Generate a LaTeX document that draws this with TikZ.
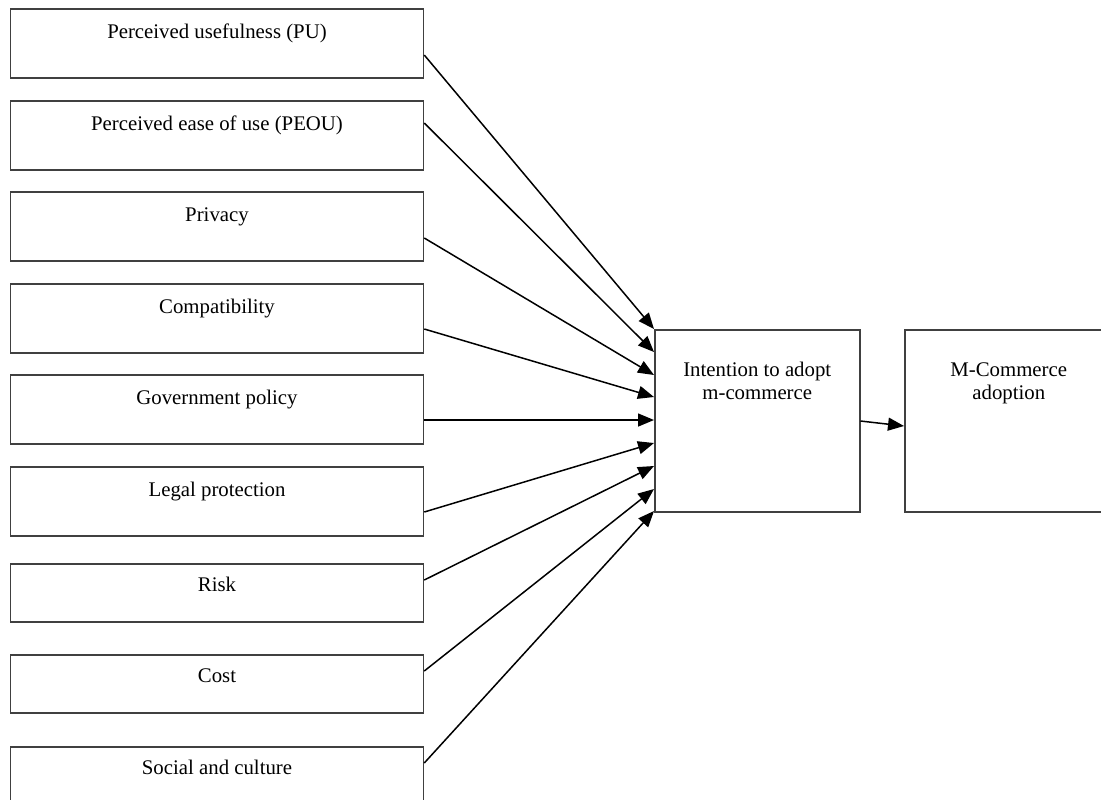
\documentclass[tikz,border=0pt]{standalone}
\usepackage{fontspec}
\setmainfont{Liberation Serif}
\usetikzlibrary{arrows.meta, calc}

\begin{document}
\begin{tikzpicture}[x=0.5pt, y=-0.5pt, >={Triangle[length=8pt, width=6.5pt]},
    font=\fontsize{10.4}{11.5}\selectfont,
    factor/.style={draw=black!75, line width=0.75pt, anchor=north, minimum width=206.5pt,
        inner ysep=8pt, text height=7pt, text depth=11.5pt},
    lowfactor/.style={factor, inner ysep=7pt, text depth=8pt},
    stage/.style={draw=black!75, line width=0.75pt, anchor=north west, minimum width=102.5pt,
        inner ysep=16.5pt, text height=7pt, text depth=51pt},
    link/.style={->, line width=0.75pt}]

    % --- 1. Frame (page size in pixels) ---
    \useasboundingbox (0,0) rectangle (1101,799);

    % --- 2. Factor boxes (left column) ---
    \node[factor] (pu) at (217,8) {Perceived usefulness (PU)};
    \node[factor] (peou) at (217,100) {Perceived ease of use (PEOU)};
    \node[factor] (priv) at (217,191) {Privacy};
    \node[factor] (compat) at (217,283) {Compatibility};
    \node[factor] (gov) at (217,374) {Government policy};
    \node[factor] (legal) at (217,466) {Legal protection};
    \node[lowfactor] (risk) at (217,563) {Risk};
    \node[lowfactor] (cost) at (217,654) {Cost};
    % runs past the lower edge of the page
    \node[lowfactor, text depth=14pt] (social) at (217,746) {Social and culture};

    % --- 3. Intention and adoption ---
    \node[stage] (intent) at (654,329)
        {\begin{tabular}[t]{@{}c@{}}Intention to adopt\\m-commerce\end{tabular}};
    \node[stage, minimum width=104pt] (adopt) at (904,329)
        {\begin{tabular}[t]{@{}c@{}}M-Commerce\\adoption\end{tabular}};

    % --- 4. Arrows into the intention box ---
    \draw[link] ($(pu.north east)+(0,47)$) -- ($(intent.north west)+(0,0)$);
    \draw[link] ($(peou.north east)+(0,23)$) -- ($(intent.north west)+(0,23)$);
    \draw[link] ($(priv.north east)+(0,47)$) -- ($(intent.north west)+(0,46)$);
    \draw[link] ($(compat.north east)+(0,46)$) -- ($(intent.north west)+(0,68)$);
    \draw[link] ($(gov.north east)+(0,46)$) -- ($(intent.north west)+(0,91)$);
    \draw[link] ($(legal.north east)+(0,46)$) -- ($(intent.north west)+(0,114)$);
    \draw[link] ($(risk.north east)+(0,17)$) -- ($(intent.north west)+(0,137)$);
    \draw[link] ($(cost.north east)+(0,17)$) -- ($(intent.north west)+(0,160)$);
    \draw[link] ($(social.north east)+(0,17)$) -- ($(intent.north west)+(0,182)$);

    % Intention leads to adoption
    \draw[link] ($(intent.north east)+(0,92)$) -- ($(adopt.north west)+(0,97)$);

\end{tikzpicture}
\end{document}
